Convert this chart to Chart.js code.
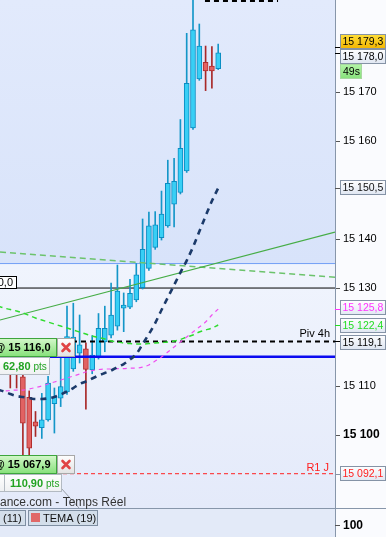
<!DOCTYPE html>
<html><head><meta charset="utf-8">
<script src="https://cdn.jsdelivr.net/npm/chart.js@4.4.1/dist/chart.umd.min.js"></script>
<style>html,body{margin:0;padding:0;background:#fff;overflow:hidden}canvas{display:block}</style>
</head><body>
<canvas id="c" width="386" height="537"></canvas>
<script>
// ---- data ----
const candleIndex = [-2,-1,0,1,2,3,4,5,6,7,8,9,10,11,12,13,14,15,16,17,18,19,20,21,22,23,24,25,26,27,28,29,30,31];
const openPrices  = [15117.0,15115.5,15111.9,15107.7,15102.7,15101.5,15103.1,15106.4,15107.5,15108.8,15113.5,15116.7,15117.6,15113.3,15116.0,15119.0,15120.4,15122.2,15125.9,15126.1,15127.6,15130.1,15134.0,15138.3,15140.3,15142.7,15147.1,15149.5,15153.9,15162.7,15172.7,15176.1,15175.3,15174.8];
const highPrices  = [15119.0,15117.0,15114.5,15109.0,15104.8,15108.5,15112.0,15109.6,15117.5,15126.3,15126.9,15124.5,15118.8,15120.3,15124.8,15126.3,15131.0,15134.7,15129.0,15131.8,15135.0,15144.1,15145.5,15145.6,15149.8,15156.1,15156.5,15164.4,15182.0,15192.0,15183.9,15179.4,15179.3,15179.8];
const lowPrices   = [15109.6,15109.6,15095.0,15095.5,15099.7,15099.3,15102.8,15100.4,15105.8,15108.3,15113.0,15114.7,15105.3,15112.5,15115.5,15117.0,15119.8,15121.4,15121.1,15125.8,15127.2,15129.8,15133.6,15137.9,15139.8,15142.4,15142.5,15149.2,15153.6,15162.4,15172.4,15170.3,15170.8,15174.6];
const closePrices = [15113.0,15112.8,15102.4,15097.3,15101.8,15103.1,15110.6,15107.8,15109.9,15120.1,15120.0,15118.4,15113.4,15116.3,15121.8,15121.8,15124.5,15129.4,15126.5,15128.9,15132.7,15137.9,15142.7,15142.9,15145.1,15151.4,15151.8,15158.5,15171.8,15182.7,15179.4,15174.3,15174.3,15178.0];

const indicatorIndex = [-4,-3,-2,-1,0,1,2,3,4,5,6,7,8,9,10,11,12,13,14,15,16,17,18,19,20,21,22,23,24,25,26,27,28,29,30,31];
const greenBand   = [15126.33,15125.92,15125.61,15125.31,15124.90,15124.39,15123.88,15123.47,15123.06,15122.65,15122.24,15121.84,15121.43,15121.02,15120.61,15120.20,15119.90,15119.59,15119.18,15118.98,15118.78,15118.67,15118.57,15118.57,15118.67,15118.78,15118.88,15118.98,15119.18,15119.49,15120.00,15120.41,15121.02,15121.43,15121.84,15122.45];
const magentaBand = [15108.98,15108.98,15109.08,15109.18,15109.18,15109.39,15109.69,15110.00,15110.41,15110.82,15111.22,15111.63,15112.04,15112.45,15112.86,15113.16,15113.37,15113.47,15113.47,15113.57,15113.57,15113.67,15113.67,15113.88,15114.29,15115.10,15115.92,15116.94,15117.96,15118.98,15120.00,15121.02,15122.04,15123.06,15124.49,15125.71];
const temaLine    = [15109.29,15108.88,15108.37,15107.96,15107.76,15107.55,15107.35,15107.35,15107.49,15107.76,15108.27,15108.88,15109.59,15110.41,15110.92,15111.53,15112.14,15112.65,15113.16,15113.88,15114.49,15115.41,15116.53,15118.57,15120.61,15122.86,15125.51,15128.06,15130.61,15133.16,15135.61,15138.37,15141.53,15144.69,15147.76,15150.41];

const xRange = [-3.635, 49.54];
const yRange = [15085.1, 15188.8];
const yTickValues = [15100, 15110, 15130, 15140, 15160, 15170];
const boldTick = 15100;

const zoneLevel   = 15135.0;
const lineLevel   = 15130.0;
const pivot4h     = 15119.1;
const orderLevel  = 15116.0;
const r1Level     = 15092.1;
const topPivot    = 15188.6;
const topPivotX   = [28.9, 40.5];
const trendSolidX = [-3.635, 49.54];
const trendSolidY = [15123.47, 15141.4];
const trendDashX  = [-3.635, 49.54];
const trendDashY  = [15137.35, 15132.2];

const askPrice  = 15179.3;
const lastPrice = 15178.0;
const countdown = '49s';
const temaLast  = 15150.5;
const magLast   = 15125.8;
const greenLast = 15122.4;
const order1Price = '15 116,0', order1Pts = '62,80';
const order2Price = '15 067,9', order2Pts = '110,90';
const lowerPanelTick = '100';

// ---- helpers ----
const FONT = "'Liberation Sans', Arial, sans-serif";
function fmt(v, d) {
  const s = v.toFixed(d);
  let [i, f] = s.split('.');
  i = i.replace(/\B(?=(\d{3})+(?!\d))/g, ' ');
  return f !== undefined ? i + ',' + f : i;
}
const isUp = candleIndex.map((_, k) => closePrices[k] >= openPrices[k]);
const hline = v => [{x: xRange[0], y: v}, {x: xRange[1], y: v}];

function rectBox(ctx, x, y, w, h, fill, stroke) {
  ctx.fillStyle = fill; ctx.fillRect(x, y, w, h);
  if (stroke) { ctx.strokeStyle = stroke; ctx.lineWidth = 1; ctx.strokeRect(x + 0.5, y + 0.5, w - 1, h - 1); }
}
function vgrad(ctx, y0, y1, c0, c1) {
  const g = ctx.createLinearGradient(0, y0, 0, y1); g.addColorStop(0, c0); g.addColorStop(1, c1); return g;
}

const decor = {
  id: 'decor',
  beforeDraw(chart) {
    const {ctx, chartArea: a, scales: {y}} = chart;
    ctx.save();
    ctx.fillStyle = '#fafbfe'; ctx.fillRect(0, 0, chart.width, chart.height);
    const yz = Math.round(y.getPixelForValue(zoneLevel));
    ctx.fillStyle = vgrad(ctx, a.top, yz, '#e2eafc', '#d8e3fa');
    ctx.fillRect(a.left, a.top, a.right - a.left, yz - a.top);
    ctx.fillStyle = vgrad(ctx, yz, a.bottom, '#f0f4fd', '#e4eafa');
    ctx.fillRect(a.left, yz, a.right - a.left, a.bottom - yz);
    ctx.fillStyle = '#e3eaf8';
    ctx.fillRect(a.left, a.bottom, a.right - a.left, chart.height - a.bottom);
    ctx.restore();
  },
  afterDraw(chart) {
    const {ctx, chartArea: a, scales: {y}} = chart;
    ctx.save();
    ctx.strokeStyle = '#8796aa'; ctx.lineWidth = 1;
    ctx.beginPath(); ctx.moveTo(a.right + 0.5, a.bottom); ctx.lineTo(a.right + 0.5, chart.height); ctx.stroke();
    ctx.beginPath(); ctx.moveTo(0, a.bottom + 0.5); ctx.lineTo(chart.width, a.bottom + 0.5); ctx.stroke();

    const bx = a.right + 5, bw = 46, bh = 15;
    const TAGFONT = '10.5px ' + FONT;
    function tag(v, top, text, color, bg, tickColor, w) {
      const py = Math.round(y.getPixelForValue(v)) + 0.5;
      ctx.strokeStyle = tickColor; ctx.lineWidth = 1;
      ctx.beginPath(); ctx.moveTo(a.right, py); ctx.lineTo(bx, py); ctx.stroke();
      rectBox(ctx, bx, top, w || bw, bh, bg, '#8593a6');
      ctx.fillStyle = color; ctx.font = TAGFONT; ctx.textBaseline = 'middle'; ctx.textAlign = 'left';
      ctx.fillText(text, bx + 2.5, top + bh / 2 + 0.5);
    }
    function lightG(top) { return vgrad(ctx, top, top + bh, '#ffffff', '#dfe6f2'); }
    const centered = v => Math.round(y.getPixelForValue(v) - bh / 2);
    tag(askPrice, 34, fmt(askPrice, 1), '#000', vgrad(ctx, 34, 49, '#ffe03a', '#f2b400'), '#000');
    tag(lastPrice, 49, fmt(lastPrice, 1), '#000', lightG(49), '#000');
    rectBox(ctx, bx, 64, 22, bh, vgrad(ctx, 64, 79, '#b4f5a8', '#86e07a'), '#a8d8a0');
    ctx.fillStyle = '#000'; ctx.font = TAGFONT; ctx.textBaseline = 'middle'; ctx.textAlign = 'left';
    ctx.fillText(countdown, bx + 3, 64 + bh / 2 + 0.5);
    tag(temaLast, centered(temaLast), fmt(temaLast, 1), '#111', lightG(centered(temaLast)), '#555');
    tag(magLast, centered(magLast) - 1, fmt(magLast, 1), '#ff33ff', lightG(centered(magLast)), '#ff33ff');
    tag(greenLast, centered(greenLast), fmt(greenLast, 1), '#22dd22', lightG(centered(greenLast)), '#22dd22');
    tag(pivot4h, centered(pivot4h) + 1, fmt(pivot4h, 1), '#000', lightG(centered(pivot4h)), '#000');
    tag(r1Level, centered(r1Level), fmt(r1Level, 1), '#ff2020', lightG(centered(r1Level)), '#8593a6');

    ctx.font = '11px ' + FONT; ctx.textAlign = 'right'; ctx.textBaseline = 'alphabetic';
    ctx.fillStyle = '#000'; ctx.fillText('Piv 4h', a.right - 5, y.getPixelForValue(pivot4h) - 4);
    ctx.fillStyle = '#ff2020'; ctx.fillText('R1 J', a.right - 6, y.getPixelForValue(r1Level) - 3);

    const y130 = Math.round(y.getPixelForValue(lineLevel));
    rectBox(ctx, -2, y130 - 12, 19, 13, '#ffffff', '#000');
    ctx.fillStyle = '#000'; ctx.textAlign = 'right'; ctx.textBaseline = 'middle';
    ctx.fillText(fmt(lineLevel, 1), 13, y130 - 5);

    function orderLabel(top, priceText, pts, ptsW, divider) {
      rectBox(ctx, -2, top, 59, 19, vgrad(ctx, top, top + 19, '#d6f8cc', '#84e078'), '#3da53d');
      rectBox(ctx, 57, top, 18, 19, vgrad(ctx, top, top + 19, '#ffffff', '#e2e2e2'), '#a8a8a8');
      ctx.strokeStyle = '#e04444'; ctx.lineWidth = 2.6; ctx.lineCap = 'round';
      const cx = 66, cy = top + 9.5;
      ctx.beginPath(); ctx.moveTo(cx - 3.5, cy - 3.5); ctx.lineTo(cx + 3.5, cy + 3.5);
      ctx.moveTo(cx + 3.5, cy - 3.5); ctx.lineTo(cx - 3.5, cy + 3.5); ctx.stroke();
      ctx.lineCap = 'butt';
      ctx.fillStyle = '#000'; ctx.font = 'bold 11px ' + FONT; ctx.textAlign = 'right'; ctx.textBaseline = 'middle';
      ctx.fillText('@ ' + priceText, 50.5, top + 10);
      const pt = top + 19;
      rectBox(ctx, -2, pt, ptsW + 2, 18, vgrad(ctx, pt, pt + 18, '#ffffff', '#eef0f2'), '#b3bac2');
      let tx = 3;
      if (divider) {
        ctx.strokeStyle = '#b3bac2'; ctx.lineWidth = 1;
        ctx.beginPath(); ctx.moveTo(4.5, pt); ctx.lineTo(4.5, pt + 18); ctx.stroke();
        tx = 10;
      }
      ctx.textAlign = 'left'; ctx.fillStyle = '#22a322'; ctx.font = 'bold 11px ' + FONT;
      ctx.fillText(pts, tx, pt + 9.5);
      const w = ctx.measureText(pts).width;
      ctx.font = '10px ' + FONT; ctx.fillText('pts', tx + w + 3, pt + 10);
    }
    orderLabel(338, order1Price, order1Pts, 50, false);
    ctx.strokeStyle = '#9aa0a8'; ctx.lineWidth = 1;
    ctx.beginPath(); ctx.moveTo(61, 488); ctx.lineTo(79, 508); ctx.stroke();
    orderLabel(455, order2Price, order2Pts, 62, true);

    ctx.fillStyle = '#333'; ctx.font = '12px ' + FONT; ctx.textAlign = 'left'; ctx.textBaseline = 'alphabetic';
    ctx.fillText('ance.com - Temps Réel', 0, 506);

    rectBox(ctx, -2, 510, 28, 16, '#d3deea', '#7f8fa2');
    rectBox(ctx, 28, 510, 70, 16, '#d3deea', '#7f8fa2');
    ctx.fillStyle = '#e06868'; ctx.fillRect(31, 513, 9, 9);
    ctx.fillStyle = '#111'; ctx.font = '11px ' + FONT; ctx.textBaseline = 'middle';
    ctx.fillText('(11)', 3, 518.5);
    ctx.fillText('TEMA (19)', 43, 518.5);

    ctx.strokeStyle = '#555'; ctx.beginPath(); ctx.moveTo(a.right, 525.5); ctx.lineTo(a.right + 5, 525.5); ctx.stroke();
    ctx.fillStyle = '#000'; ctx.font = 'bold 12px ' + FONT;
    ctx.fillText(lowerPanelTick, a.right + 8, 525.5);
    ctx.restore();
  }
};

const wickData = candleIndex.map((x, k) => ({x, y: [lowPrices[k], highPrices[k]]}));
const bodyData = candleIndex.map((x, k) => ({x, y: [openPrices[k], closePrices[k]]}));
const indData = arr => indicatorIndex.map((x, k) => ({x, y: arr[k]}));

const lineBase = {type: 'line', pointRadius: 0, fill: false, tension: 0};

new Chart(document.getElementById('c'), {
  type: 'line',
  data: {
    datasets: [
      {...lineBase, data: hline(zoneLevel), borderColor: '#74a0f6', borderWidth: 1, order: 20},
      {...lineBase, data: hline(lineLevel), borderColor: '#000000', borderWidth: 1, order: 20},
      {type: 'bar', data: wickData, grouped: false, barThickness: 1, borderWidth: 0,
        backgroundColor: isUp.map(u => u ? '#1496c8' : '#a82828'), order: 12},
      {type: 'bar', data: bodyData, grouped: false, barThickness: 5, borderWidth: 1, borderSkipped: false, minBarLength: 2,
        backgroundColor: isUp.map(u => u ? '#38cff5' : '#e26262'),
        borderColor: isUp.map(u => u ? '#0a8cc2' : '#b02c2c'), order: 11},
      {...lineBase, data: hline(orderLevel), borderColor: '#0a0af0', borderWidth: 2.5, order: 8},
      {...lineBase, data: hline(pivot4h), borderColor: '#000000', borderWidth: 2, borderDash: [5, 4], order: 8},
      {...lineBase, data: hline(r1Level), borderColor: '#ff2020', borderWidth: 1, borderDash: [4, 3], order: 8},
      {...lineBase, data: [{x: topPivotX[0], y: topPivot}, {x: topPivotX[1], y: topPivot}], borderColor: '#000', borderWidth: 2, borderDash: [5, 4], order: 8},
      {...lineBase, data: trendDashX.map((x, k) => ({x, y: trendDashY[k]})), borderColor: '#6cc36c', borderWidth: 1.5, borderDash: [6, 4], order: 6},
      {...lineBase, data: trendSolidX.map((x, k) => ({x, y: trendSolidY[k]})), borderColor: '#46ad46', borderWidth: 1.2, order: 5},
      {...lineBase, data: indData(greenBand), borderColor: '#2fdc2f', borderWidth: 1.5, borderDash: [5, 4], cubicInterpolationMode: 'monotone', order: 4},
      {...lineBase, data: indData(magentaBand), borderColor: '#f050f0', borderWidth: 1.2, borderDash: [4, 4], cubicInterpolationMode: 'monotone', order: 3},
      {...lineBase, data: indData(temaLine), borderColor: '#1b3a6a', borderWidth: 2.6, borderDash: [6, 5], cubicInterpolationMode: 'monotone', order: 2}
    ]
  },
  options: {
    responsive: false,
    devicePixelRatio: 1,
    animation: false,
    layout: {padding: {left: 0, right: 0, top: 0, bottom: 29}},
    plugins: {legend: {display: false}, tooltip: {enabled: false}},
    scales: {
      x: {type: 'linear', min: xRange[0], max: xRange[1], offset: false, display: false},
      y: {
        type: 'linear', position: 'right', min: yRange[0], max: yRange[1],
        afterBuildTicks: s => { s.ticks = yTickValues.map(v => ({value: v})); },
        afterFit: s => { s.width = 51; s.paddingTop = 0; s.paddingBottom = 0; },
        border: {color: '#8796aa', width: 1},
        grid: {drawOnChartArea: false, drawTicks: true, tickLength: 5, color: '#555'},
        ticks: {
          padding: 3, color: '#000',
          font: ctx => (ctx.tick && ctx.tick.value === boldTick) ? {family: FONT, size: 12, weight: 'bold'} : {family: FONT, size: 11},
          callback: v => fmt(v, 0)
        }
      }
    }
  },
  plugins: [decor]
});
</script>
</body></html>
